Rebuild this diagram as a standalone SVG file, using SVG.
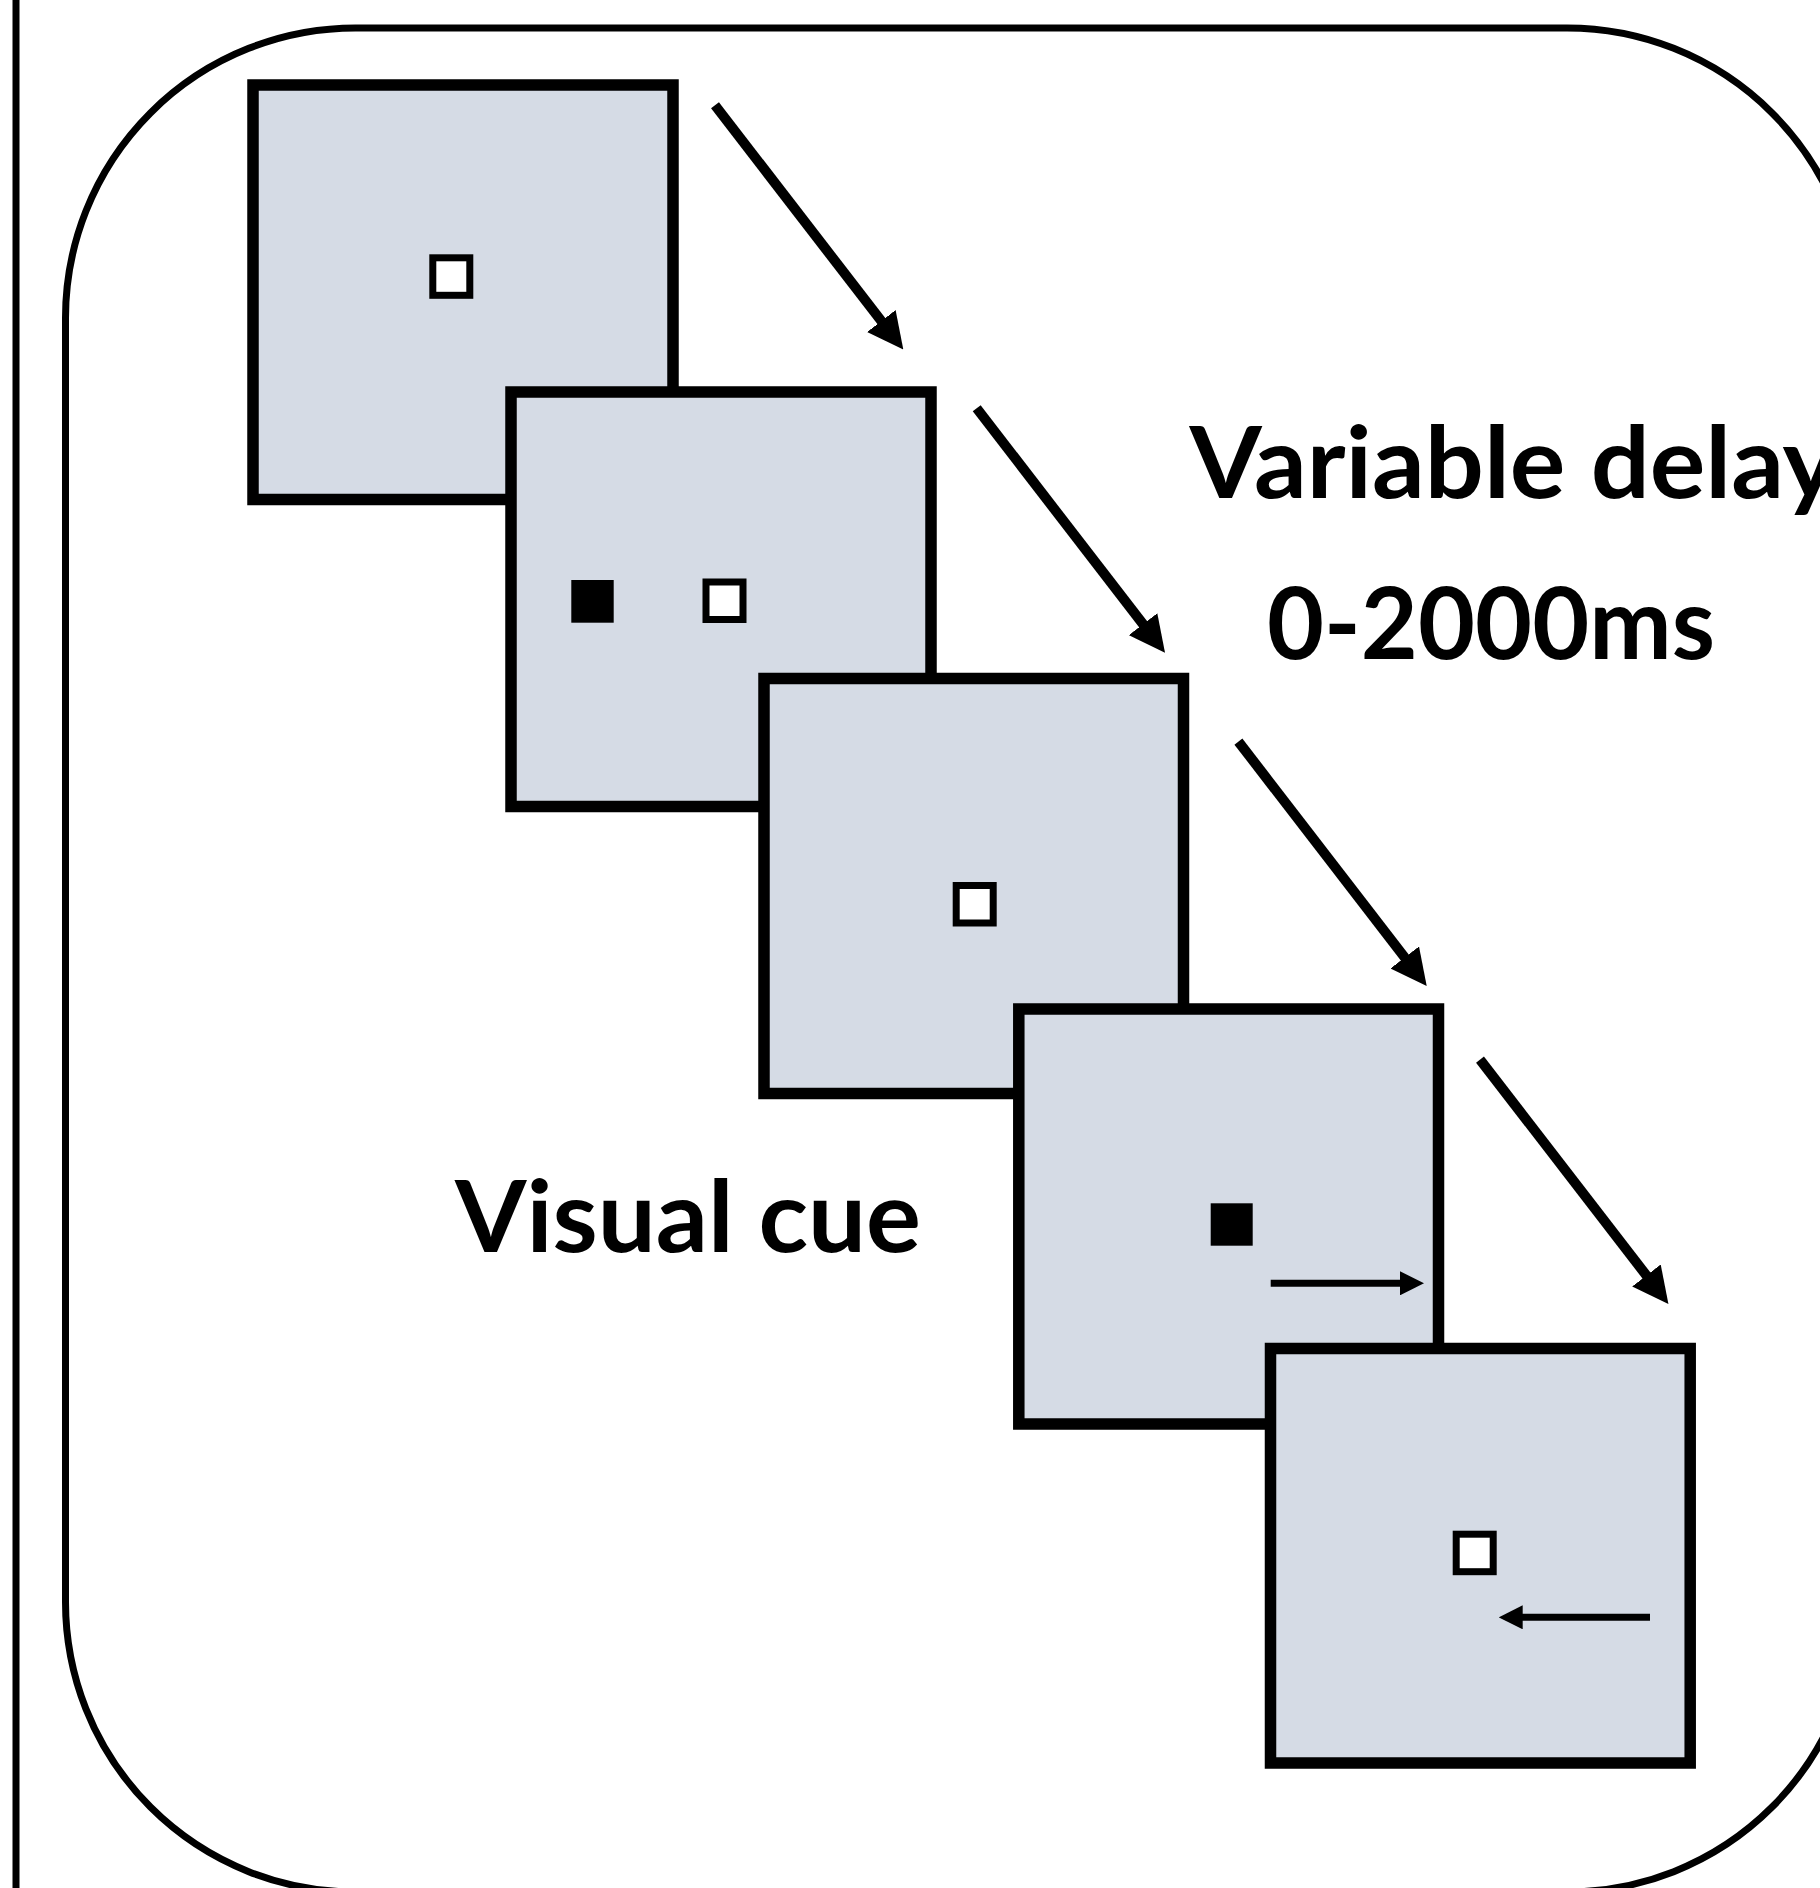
<svg xmlns="http://www.w3.org/2000/svg" width="1820" height="1888" viewBox="0 0 1820 1888">
  <style>
    .frame { fill: none; stroke: #000; stroke-width: 7; }
    .screen { fill: #D5DBE5; stroke: #000; stroke-width: 11.5; }
    .hollow { fill: #FFFFFF; stroke: #000; stroke-width: 7; }
    .solid { fill: #000; }
    .flow { stroke: #000; stroke-width: 10; fill: none; marker-end: url(#bigHead); }
    .dir { stroke: #000; stroke-width: 7; fill: none; marker-end: url(#smallHead); }
    .label { font-family: Lato, "Open Sans", "Liberation Sans", sans-serif; font-weight: bold; font-size: 99px; fill: #000; }
  </style>
  <defs>
    <marker id="bigHead" markerUnits="userSpaceOnUse" viewBox="0 0 36 36" refX="6" refY="18" markerWidth="36" markerHeight="36" orient="auto">
      <path d="M0,0 L36,18 L0,36 Z" fill="#000"/>
    </marker>
    <marker id="smallHead" markerUnits="userSpaceOnUse" viewBox="0 0 24 24" refX="4" refY="12" markerWidth="24" markerHeight="24" orient="auto">
      <path d="M0,0 L24,12 L0,24 Z" fill="#000"/>
    </marker>
  </defs>

  <rect width="1820" height="1888" fill="#FFFFFF"/>

  <g id="frame">
    <line class="frame" x1="16" y1="0" x2="16" y2="1888"/>
    <rect class="frame" x="65.5" y="28" width="1791.5" height="1864" rx="290" ry="290"/>
  </g>

  <g id="screen1">
    <rect class="screen" x="253" y="85" width="420" height="414.5"/>
    <rect class="hollow" x="432.8" y="257.8" width="37" height="37.5"/>
  </g>

  <g id="screen2">
    <rect class="screen" x="511" y="392" width="420" height="414.5"/>
    <rect class="solid" x="571.3" y="580" width="42.4" height="42.7"/>
    <rect class="hollow" x="706" y="582" width="37" height="37.5"/>
  </g>

  <g id="screen3">
    <rect class="screen" x="764" y="678.5" width="419.5" height="415"/>
    <rect class="hollow" x="956.2" y="885.5" width="37" height="37.5"/>
  </g>

  <g id="screen4">
    <rect class="screen" x="1018.8" y="1009" width="419.7" height="415"/>
    <rect class="solid" x="1210.7" y="1203.3" width="42" height="42.4"/>
    <line class="dir" x1="1270.7" y1="1283.3" x2="1404" y2="1283.3"/>
  </g>

  <g id="screen5">
    <rect class="screen" x="1270.5" y="1348.5" width="419.7" height="414.5"/>
    <rect class="hollow" x="1456.2" y="1534.2" width="37" height="37.5"/>
    <line class="dir" x1="1650" y1="1617.3" x2="1518.7" y2="1617.3"/>
  </g>

  <g id="connectors">
    <line class="flow" x1="715" y1="105.3" x2="885" y2="325.8"/>
    <line class="flow" x1="976.7" y1="408.3" x2="1146.7" y2="628.9"/>
    <line class="flow" x1="1238.4" y1="741.6" x2="1408.4" y2="962.2"/>
    <line class="flow" x1="1480" y1="1059.6" x2="1650.1" y2="1280.2"/>
  </g>

  <g id="label-delay">
    <text class="label" x="1189.5" y="497.8" textLength="648" lengthAdjust="spacingAndGlyphs">Variable delay</text>
    <text class="label" x="1267" y="658.5" textLength="448" lengthAdjust="spacingAndGlyphs">0-2000ms</text>
  </g>

  <g id="label-cue">
    <text class="label" x="455" y="1252" textLength="466" lengthAdjust="spacingAndGlyphs">Visual cue</text>
  </g>
</svg>
